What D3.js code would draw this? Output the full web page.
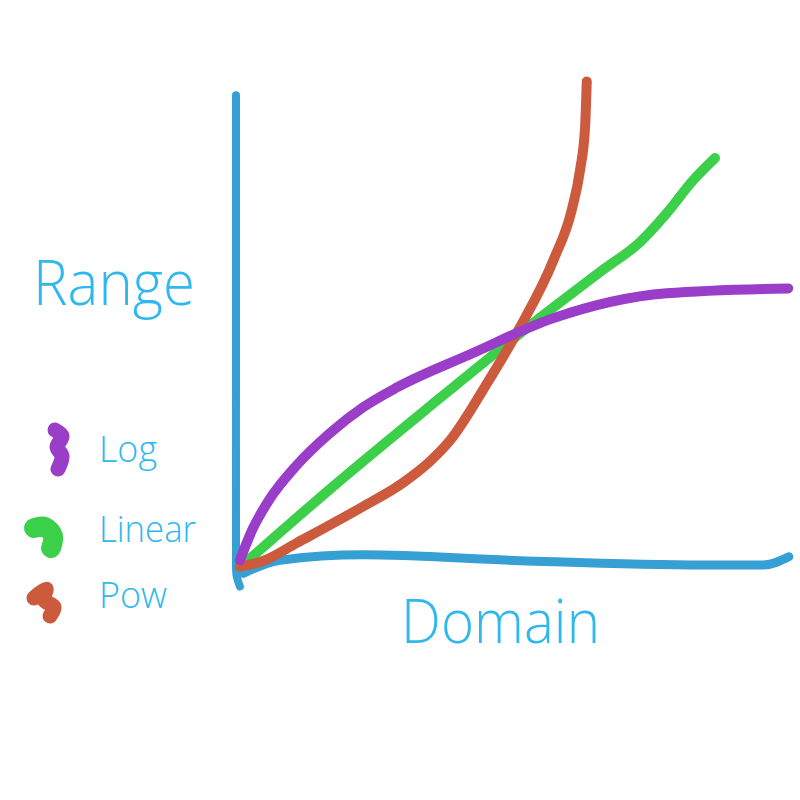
<!DOCTYPE html>
<html><head><meta charset="utf-8">
<script src="https://cdn.jsdelivr.net/npm/d3@7"></script>
<style>body{margin:0;background:#fff}svg{display:block}</style>
</head><body>
<svg id="c" width="800" height="800"></svg>
<script>
// ---- data (domain units 0..100, range units 0..100) ----
const seriesNames = ["Log", "Linear", "Pow"];
const logX   = [0.7, 3, 6, 10.9, 16.9, 23, 29.0, 42.2, 57.2, 77.6, 99.5];
const logY   = [1.6, 8, 14, 21, 27.6, 33.0, 37.0, 43.8, 51.2, 56.3, 57.3];
const linX   = [1.6, 18, 35, 51.2, 66, 72.8, 77.6, 82.4, 86.3];
const linY   = [1.0, 17.2, 33.2, 48.1, 61, 66.8, 72.7, 79.5, 84.0];
const powX   = [0.7, 5, 10.9, 22.9, 30, 35, 38.6, 45.2, 51.2, 57.2, 60.5, 62.0, 62.9, 63.2];
const powY   = [0.3, 1.5, 5.1, 12.6, 17.4, 21.9, 26.2, 37.8, 49.4, 63.1, 73.4, 81.6, 90.4, 99.7];
const xAxisX = [1.3, 7.9, 22.9, 51.2, 84.3, 95, 99.6];
const xAxisY = [-1.1, 1.6, 2.7, 1.5, 0.6, 0.6, 2.3];
const yAxisX = [0, 0, 0, 0.1, 0.7];
const yAxisY = [96.9, 40, 3, -1.5, -3.8];
const axisTitles = ["Domain", "Range"];

const colors = {Log: "#9a3ec9", Linear: "#3bcf4a", Pow: "#cc5a3c", axis: "#369fd3", text: "#2fb8ee"};

const svg = d3.select("#c");
const x = d3.scaleLinear().domain([0, 100]).range([236, 791]);
const y = d3.scaleLinear().domain([0, 100]).range([568, 80]);

const zip = (a, b) => a.map((v, i) => [v, b[i]]);
const smooth = d3.line().x(d => x(d[0])).y(d => y(d[1])).curve(d3.curveMonotoneX);
const vert = d3.line().x(d => x(d[0])).y(d => y(d[1])).curve(d3.curveCatmullRom.alpha(0.5));

function stroke(gen, pts, color, w) {
  svg.append("path").attr("d", gen(pts)).attr("fill", "none")
    .attr("stroke", color).attr("stroke-width", w)
    .attr("stroke-linecap", "round").attr("stroke-linejoin", "round");
}

// axes
stroke(vert, zip(yAxisX, yAxisY), colors.axis, 8);
stroke(smooth, zip(xAxisX, xAxisY), colors.axis, 9);
// series
stroke(smooth, zip(linX, linY), colors.Linear, 10);
stroke(smooth, zip(powX, powY), colors.Pow, 10);
stroke(smooth, zip(logX, logY), colors.Log, 10);

// axis titles
const font = "'Open Sans', sans-serif";
function label(t, px, py, size, len) {
  svg.append("text").text(t).attr("x", px).attr("y", py)
    .attr("font-family", font).attr("font-weight", 300).attr("font-size", size)
    .attr("textLength", len).attr("lengthAdjust", "spacingAndGlyphs")
    .attr("fill", colors.text);
}
label(axisTitles[1], 33, 305, 62, 162);
label(axisTitles[0], 401, 643, 60, 199);

// legend
const legendY = [462, 542, 608];
const legendLen = [58, 97, 68];
const blobs = {
  Log:    [[55,430],[62,436],[57,447],[62,456],[58,469]],
  Linear: [[34,528],[45,527],[53,536],[51,548]],
  Pow:    [[34,598],[46,589],[44,600],[54,607],[50,616]]
};
const blobW = {Log: 15, Linear: 20, Pow: 15};
const bl = d3.line().curve(d3.curveCatmullRom);
seriesNames.forEach((name, i) => {
  svg.append("path").attr("d", bl(blobs[name])).attr("fill", "none")
    .attr("stroke", colors[name]).attr("stroke-width", blobW[name])
    .attr("stroke-linecap", "round").attr("stroke-linejoin", "round");
  label(name, 99, legendY[i], 37, legendLen[i]);
});
</script>
</body></html>
